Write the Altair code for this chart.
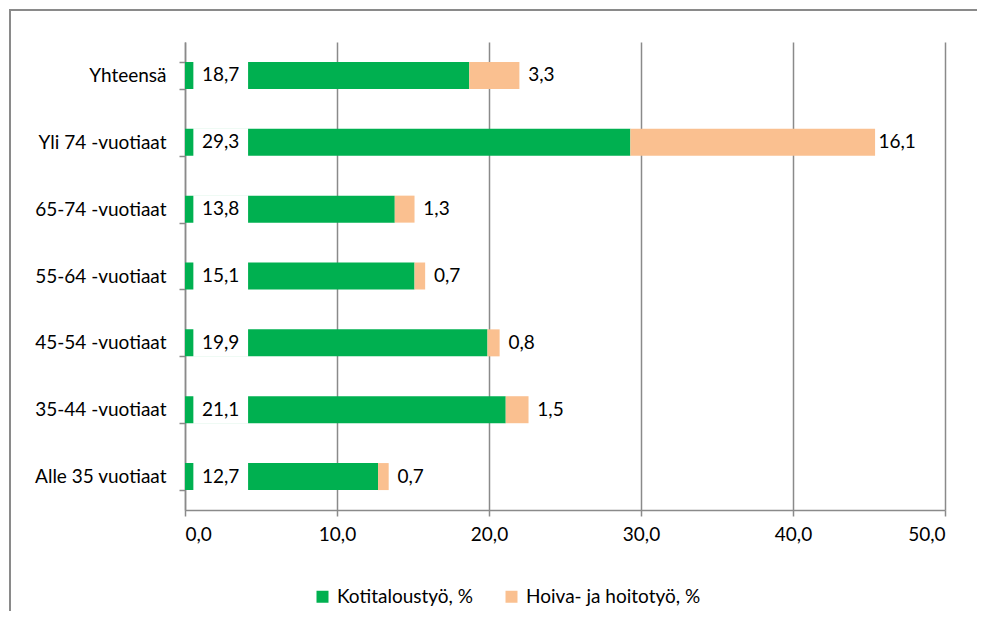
import altair as alt
import pandas as pd

categories = ["Yhteensä", "Yli 74 -vuotiaat", "65-74 -vuotiaat", "55-64 -vuotiaat",
              "45-54 -vuotiaat", "35-44 -vuotiaat", "Alle 35 vuotiaat"]
koti = [18.7, 29.3, 13.8, 15.1, 19.9, 21.1, 12.7]
hoiva = [3.3, 16.1, 1.3, 0.7, 0.8, 1.5, 0.7]
series = ["Kotitaloustyö, %", "Hoiva- ja hoitotyö, %"]
colors = ["#00B050", "#FAC090"]

rows = []
for c, k, h in zip(categories, koti, hoiva):
    rows.append({"cat": c, "series": series[0], "start": 0.0, "end": k, "val": k})
    rows.append({"cat": c, "series": series[1], "start": k, "end": k + h, "val": h})
df = pd.DataFrame(rows)
df_k = df[df.series == series[0]].copy()
df_h = df[df.series == series[1]].copy()

FONT = "Lato"
FS = 19
GRAY = "#8a8a8a"

yenc = alt.Y("cat:N", sort=categories, title=None,
             scale=alt.Scale(paddingInner=0.6, paddingOuter=0.3),
             axis=alt.Axis(tickBand="extent", tickSize=6, labelPadding=13,
                           domainColor=GRAY, tickColor=GRAY, domainWidth=1.5, tickWidth=1.5,
                           labelFont=FONT, labelFontSize=FS, labelColor="#000", grid=False))
xscale = alt.Scale(domain=[0, 50], nice=False)
xaxis = alt.Axis(values=[0, 10, 20, 30, 40, 50], tickSize=6, labelPadding=9,
                 labelExpr="replace(format(datum.value, '.1f'), '.', ',')",
                 domainColor=GRAY, tickColor=GRAY, gridColor=GRAY, grid=True,
                 domainWidth=1.5, tickWidth=1.5, gridWidth=1.5,
                 labelFont=FONT, labelFontSize=FS, labelColor="#000", title=None)

one = alt.Data(values=[{}])
frame_top = alt.Chart(one).mark_rule(color=GRAY, strokeWidth=2).encode(
    x=alt.value(-176), x2=alt.value(792), y=alt.value(-32))
frame_left = alt.Chart(one).mark_rule(color=GRAY, strokeWidth=2).encode(
    x=alt.value(-175), y=alt.value(-33), y2=alt.value(577))

bars = alt.Chart(df).mark_bar(size=27).encode(
    x=alt.X("start:Q", scale=xscale, axis=xaxis),
    x2="end:Q",
    y=yenc,
    color=alt.Color("series:N", scale=alt.Scale(domain=series, range=colors),
                    sort=series,
                    legend=alt.Legend(orient="none", legendX=128, legendY=545,
                                      direction="horizontal", title=None,
                                      symbolType="square", symbolSize=144,
                                      symbolStrokeWidth=0, columnPadding=28,
                                      labelFont=FONT, labelFontSize=FS, labelColor="#000",
                                      labelOffset=5, padding=0, labelLimit=1000)),
)

mask = alt.Chart(df_k).transform_calculate(a="0.55", b="4.15").mark_bar(
    size=28, color="white"
).encode(x="a:Q", x2="b:Q", y=alt.Y("cat:N", sort=categories))

lab_h = alt.Chart(df_h).transform_calculate(
    t="replace(format(datum.val, '.1f'), '.', ',')"
).mark_text(align="center", dx=22, font=FONT, fontSize=FS, color="#000").encode(
    x="end:Q", y=alt.Y("cat:N", sort=categories), text="t:N")

lab_k = alt.Chart(df_k).transform_calculate(
    z="0", t="replace(format(datum.val, '.1f'), '.', ',')"
).mark_text(align="left", dx=17, font=FONT, fontSize=FS, color="#000").encode(
    x="z:Q", y=alt.Y("cat:N", sort=categories), text="t:N")

chart = alt.layer(frame_top, frame_left, bars, mask, lab_k, lab_h).properties(
    width=760, height=468,
    autosize=alt.AutoSizeParams(type="none"),
    padding={"left": 177, "top": 34, "right": 33, "bottom": 101},
    background="white",
).configure_view(stroke="transparent")

chart.save("out.html", embed_options={"renderer": "svg", "actions": False})
